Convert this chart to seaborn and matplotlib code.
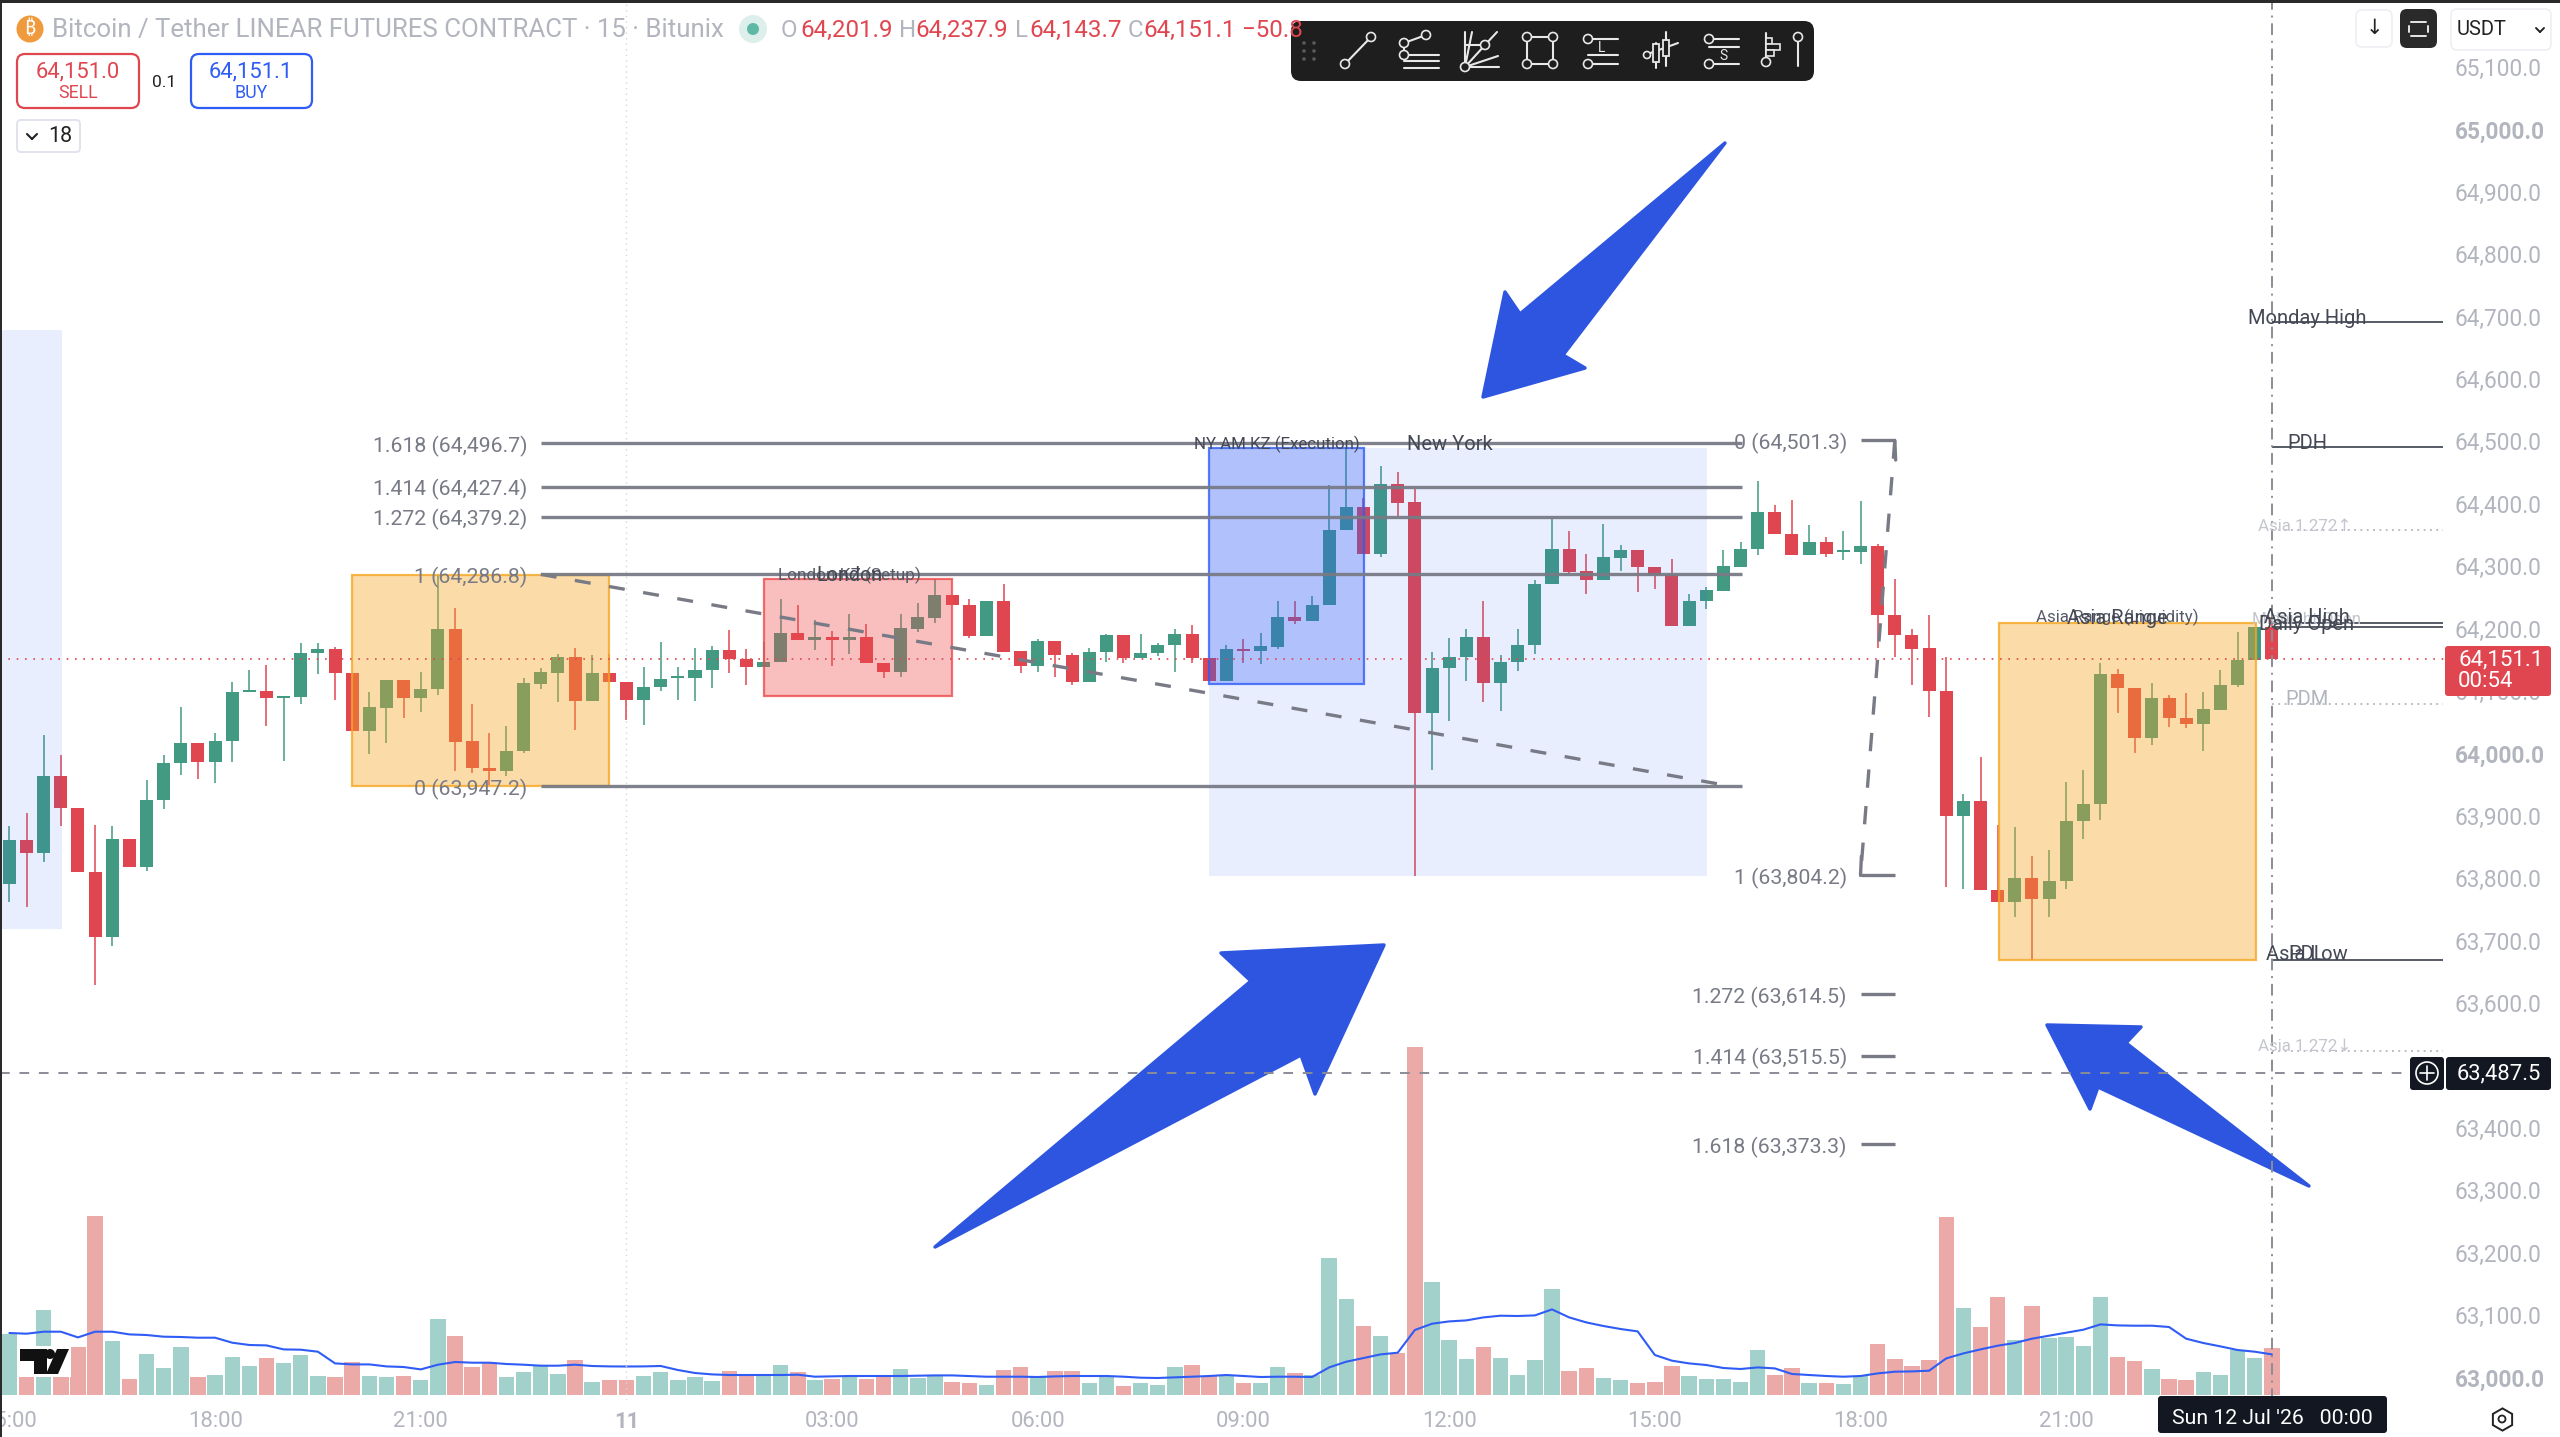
import numpy as np
import pandas as pd
import matplotlib
matplotlib.use('Agg')
import matplotlib.pyplot as plt
import seaborn as sns
from matplotlib.patches import Rectangle, Polygon, FancyBboxPatch, Circle

# 15 minute candles
opens = [63791, 63861, 63841, 63963, 63913, 63809, 63706, 63862, 63817, 63925, 63984, 64016, 63986, 64019, 64099, 64100, 64088, 64091, 64160, 64167,
         64129, 64035, 64073, 64117, 64088, 64103, 64199, 64019, 63977, 63972, 64003, 64111, 64129, 64154, 64084, 64129, 64115, 64086, 64106, 64121,
         64121, 64133, 64166, 64151, 64139, 64147, 64193, 64182, 64186, 64182, 64187, 64145, 64130, 64199, 64217, 64253, 64238, 64188, 64244, 64164,
         64140, 64180, 64157, 64114, 64162, 64189, 64152, 64160, 64174, 64191, 64153, 64116, 64167, 64164, 64171, 64218, 64212, 64237, 64358, 64394,
         64319, 64432, 64402, 64064, 64137, 64154, 64187, 64112, 64146, 64173, 64271, 64328, 64292, 64277, 64313, 64326, 64298, 64286, 64204, 64244,
         64260, 64299, 64327, 64387, 64351, 64318, 64338, 64323, 64323, 64332, 64221, 64190, 64168, 64100, 63899, 63924, 63781, 63761, 63800, 63767,
         63795, 63891, 63918, 64127, 64104, 64024, 64089, 64057, 64047, 64070, 64109, 64150, 64201.9]
closes = [63861, 63841, 63963, 63912, 63809, 63706, 63862, 63817, 63925, 63984, 64016, 63986, 64020, 64099, 64101, 64088, 64092, 64160, 64167, 64128,
          64035, 64074, 64117, 64088, 64103, 64199, 64018, 63977, 63972, 64003, 64112, 64130, 64154, 64084, 64129, 64115, 64086, 64106, 64119, 64123,
          64133, 64166, 64151, 64139, 64147, 64193, 64181, 64186, 64182, 64187, 64144, 64130, 64200, 64218, 64253, 64238, 64188, 64244, 64163, 64140,
          64180, 64157, 64114, 64163, 64189, 64152, 64160, 64174, 64191, 64152, 64116, 64167, 64164, 64172, 64218, 64212, 64237, 64358, 64394, 64319,
          64432, 64401, 64064, 64137, 64155, 64187, 64112, 64146, 64173, 64271, 64328, 64291, 64277, 64314, 64326, 64298, 64286, 64204, 64244, 64261,
          64300, 64327, 64387, 64351, 64318, 64338, 64320, 64325, 64332, 64221, 64189, 64167, 64100, 63899, 63924, 63781, 63761, 63800, 63767, 63796,
          63891, 63919, 64127, 64104, 64024, 64089, 64056, 64047, 64071, 64110, 64150, 64201.9, 64151.1]
highs = [63883, 63904, 64029, 63998, 63913, 63885, 63884, 63862, 63957, 63997, 64074, 64016, 64032, 64114, 64134, 64142, 64092, 64176, 64176, 64170,
         64129, 64099, 64117, 64117, 64130, 64286, 64233, 64079, 64032, 64044, 64120, 64137, 64159, 64168, 64157, 64159, 64115, 64139, 64178, 64139,
         64168, 64172, 64198, 64167, 64179, 64248, 64237, 64213, 64196, 64223, 64207, 64145, 64223, 64241, 64279, 64253, 64247, 64244, 64271, 64164,
         64183, 64180, 64161, 64168, 64191, 64189, 64191, 64177, 64199, 64205, 64153, 64173, 64183, 64193, 64244, 64244, 64252, 64430, 64489, 64409,
         64460, 64451, 64424, 64163, 64184, 64199, 64244, 64158, 64199, 64278, 64376, 64356, 64319, 64367, 64334, 64326, 64298, 64312, 64256, 64266,
         64326, 64339, 64437, 64398, 64406, 64366, 64347, 64357, 64404, 64335, 64280, 64199, 64222, 64154, 63935, 63994, 63885, 63882, 63836, 63845,
         63954, 63973, 64145, 64135, 64104, 64112, 64094, 64096, 64099, 64134, 64195, 64201.9, 64237.9]
lows = [63762, 63754, 63825, 63883, 63809, 63629, 63691, 63817, 63812, 63910, 63965, 63959, 63953, 63986, 64099, 64044, 63988, 64079, 64127, 64085,
        64035, 63999, 64017, 64057, 64066, 64094, 63971, 63969, 63949, 63963, 64000, 64103, 64083, 64037, 64084, 64115, 64054, 64046, 64100, 64085,
        64084, 64105, 64129, 64110, 64139, 64147, 64181, 64166, 64140, 64159, 64144, 64120, 64123, 64194, 64209, 64238, 64185, 64188, 64163, 64128,
        64130, 64123, 64110, 64114, 64147, 64145, 64152, 64156, 64131, 64144, 64116, 64116, 64145, 64143, 64167, 64207, 64212, 64237, 64358, 64319,
        64314, 64380, 63804, 63973, 64051, 64116, 64083, 64068, 64132, 64159, 64271, 64287, 64256, 64277, 64292, 64259, 64263, 64204, 64204, 64232,
        64260, 64299, 64317, 64351, 64318, 64318, 64314, 64309, 64303, 64169, 64154, 64110, 64058, 63785, 63783, 63781, 63761, 63738, 63669, 63738,
        63782, 63863, 63893, 64065, 64001, 64013, 64042, 64041, 64003, 64070, 64106, 64150, 64143.7]

# volume pane, arbitrary units
volumes = [60.7, 33, 84.7, 49, 48, 178.7, 54, 15.7, 41, 27, 47.7, 17.7, 19.7, 38, 29, 37, 31.7, 39.7, 19, 17.7,
           32.7, 19, 17.7, 19, 14.3, 75.7, 59, 27.7, 32.3, 17.7, 22.3, 28.3, 20.7, 35, 12.7, 14.3, 15, 19, 22.3, 14.3,
           17.7, 13.7, 23.7, 18.3, 19, 29.7, 23, 14.3, 16, 18, 15.3, 18.7, 25.7, 17, 19.7, 12.7, 12, 9.7, 24.7, 27.3,
           18, 24, 24, 11.3, 18, 9, 11.3, 10, 28, 29.7, 18.7, 19.3, 11.3, 12, 27.3, 21.7, 19.7, 136.3, 96, 68.7,
           58.3, 42, 347.3, 113, 55, 35.7, 47.7, 36.7, 19.3, 34.3, 105.3, 24, 26.3, 16.7, 14.3, 12, 12.7, 28.7, 19, 15.7,
           15.3, 13, 44.7, 20, 27, 12, 11.3, 10.3, 19, 50.3, 35.7, 28.7, 35, 177.7, 86.7, 67.7, 98, 54.7, 88.7, 56.7,
           57.3, 48.7, 98, 37.3, 33.3, 25.3, 15.7, 15, 23, 19.7, 44.7, 36.7, 46.3]
volume_ma = [61.7, 61, 63, 63, 57.3, 63, 63, 60.3, 59.7, 58, 57.7, 57, 57, 52, 49.7, 49.3, 45.3, 45, 43, 31.3,
             30.3, 30.3, 28.3, 27.7, 25.3, 30, 32.7, 32, 32, 30.7, 30, 29, 29, 30, 28.7, 28.3, 28.2, 28.3, 28.7, 24.7,
             21.7, 20.3, 19.7, 19.7, 19.7, 19.7, 20, 18, 18.3, 18.7, 18.7, 18.7, 18.7, 19, 19.3, 19.3, 18.7, 18, 18, 18,
             17.7, 18.3, 18.7, 18.7, 18.7, 18, 17, 16.7, 17.3, 18, 18.7, 19.7, 18.7, 17.7, 18, 18, 17.7, 27.3, 33, 36.7,
             40.3, 42, 64.7, 71, 73.3, 74.3, 77.3, 79, 78.7, 79.3, 85.3, 77.3, 72.3, 68.7, 65.7, 63.3, 39.7, 34, 31.3, 29.7,
             26.7, 25.7, 27.3, 26.3, 20.7, 19.7, 18.7, 18, 18.7, 21.3, 23, 23.3, 24, 36.3, 41.3, 45.3, 49, 51.7, 56, 59,
             62, 65, 70.3, 69.3, 69, 69, 67.7, 56, 51.7, 48.3, 44.7, 43, 40.3]

# price axis and time axis
price_ticks = [65100, 65000, 64900, 64800, 64700, 64600, 64500, 64400, 64300, 64200, 64100, 64000,
               63900, 63800, 63700, 63600, 63500, 63400, 63300, 63200, 63100, 63000]
bold_prices = [65000, 64000, 63000]
time_ticks = [0, 12, 24, 36, 48, 60, 72, 84, 96, 108, 120]
time_labels = ['15:00', '18:00', '21:00', '11', '03:00', '06:00', '09:00', '12:00', '15:00', '18:00', '21:00']

# fib levels
fib_a_levels = [64496.7, 64427.4, 64379.2, 64286.8, 63947.2]
fib_a_names = ['1.618', '1.414', '1.272', '1', '0']
fib_b_levels = [64501.3, 63804.2, 63614.5, 63515.5, 63373.3]
fib_b_names = ['0', '1', '1.272', '1.414', '1.618']

last_price = 64151.1
cross_price = 63487.5
cross_bar = 132

GREEN = '#429a82'
RED = '#e04650'
VOL_GREEN = '#a2d1cb'
VOL_RED = '#ebaaa8'
GREY = '#787b86'
AXIS_GREY = '#b2b5be'
DARK = '#131722'
ARROW = '#2d55e0'

sns.set_theme(style='white')
plt.rcParams['font.family'] = ['Roboto', 'DejaVu Sans']

df = pd.DataFrame({'bar': np.arange(len(opens)), 'open': opens, 'high': highs, 'low': lows,
                   'close': closes, 'volume': volumes, 'ma': volume_ma})
df['side'] = np.where(df['close'] >= df['open'], 'up', 'down')
colors = df['side'].map({'up': GREEN, 'down': RED})

fig = plt.figure(figsize=(25.6, 14.37), dpi=100, facecolor='white')
pane = [0, 37 / 1437, 2445 / 2560, 1397 / 1437]

# volume sits behind the price axes
vol_ax = fig.add_axes(pane, zorder=1)
ax = vol_ax.twinx()
ax.set_zorder(2)
ax.patch.set_visible(False)

sns.barplot(data=df, x='bar', y='volume', hue='side', palette={'up': VOL_GREEN, 'down': VOL_RED},
            native_scale=True, dodge=False, width=0.9, saturation=1, legend=False, linewidth=0, ax=vol_ax)
sns.lineplot(data=df, x='bar', y='ma', color='#2f5cf5', linewidth=1.5, ax=vol_ax)
vol_ax.set_ylim(-5.3, 1391.7)
vol_ax.set_xlabel('')
vol_ax.set_ylabel('')
vol_ax.set_yticks([])

# candles
ax.vlines(df['bar'], df['low'], df['high'], colors=colors, linewidth=1.1, zorder=3)
ax.bar(df['bar'], np.maximum((df['close'] - df['open']).abs(), 3), bottom=df[['open', 'close']].min(axis=1),
       width=0.76, color=colors, linewidth=0, zorder=3)

# session boxes
ax.add_patch(Rectangle((-1, 63719), 4.05, 959, facecolor='#2962ff', alpha=0.1, linewidth=0, zorder=4))
ax.add_patch(Rectangle((70, 63804), 29.05, 685, facecolor='#2962ff', alpha=0.1, linewidth=0, zorder=4))
for x0, x1, p0, p1, col, fa in [(20, 35, 63948, 64285, '#f5a623', 0.4), (44, 55, 64092, 64279, '#ee4a4a', 0.35),
                                (70, 79.05, 64111, 64489, '#2f5cf5', 0.3), (116.1, 131.1, 63669, 64209, '#f5a623', 0.4)]:
    ax.add_patch(Rectangle((x0, p0), x1 - x0, p1 - p0, facecolor=col, alpha=fa, linewidth=0, zorder=4))
    ax.add_patch(Rectangle((x0, p0), x1 - x0, p1 - p0, fill=False, edgecolor=col, alpha=0.8, linewidth=1.6, zorder=4))

# fib from the left
ax.hlines(fib_a_levels, 31, 101.1, colors=GREY, linewidth=2.4, alpha=0.95, zorder=5)
ax.plot([31, 100.3], [64286.8, 63948], color=GREY, linewidth=2.4, dashes=(4.8, 5.6), zorder=5)
for lev, name in zip(fib_a_levels, fib_a_names):
    ax.text(30.2, lev - 5, f'{name} ({lev:,.1f})', ha='right', va='center', fontsize=15.3, color=GREY, zorder=6)

# fib on the right
ax.hlines(fib_b_levels, 108, 110, colors=GREY, linewidth=2.4, zorder=5)
ax.plot([110, 108], [64501.3, 63804.2], color=GREY, linewidth=2.4, dashes=(5.5, 5.5), zorder=5)
ax.plot([110, 110.05], [64501.3, 64470], color=GREY, linewidth=2.4, zorder=5)
ax.plot([108.05, 108], [63835, 63804.2], color=GREY, linewidth=2.4, zorder=5)
for lev, name in zip(fib_b_levels, fib_b_names):
    ax.text(107.2, lev - 5, f'{name} ({lev:,.1f})', ha='right', va='center', fontsize=15.3, color=GREY, zorder=6)

# level lines on the right
ax.hlines([64691, 64491, 64209, 64201.9, 63669], 132, 142, colors='#4a4e5a', linewidth=1.3, zorder=5)
ax.hlines([64358, 64079, 63523], 132, 142, colors=AXIS_GREY, linewidth=1.3, linestyles=(0, (1, 2.5)), zorder=5)

ax.axhline(last_price, color=RED, linewidth=1.2, linestyle=(0, (1, 4)), zorder=5)
ax.axvline(36, color='#d5d7dd', linewidth=1, linestyle=(0, (1, 3)), zorder=0)

ax.set_xlim(-0.548, 142.1)
ax.set_ylim(62963.6, 65202.4)
vol_ax.set_xlim(-0.548, 142.1)

ax.set_yticks(price_ticks)
ax.set_yticklabels([f'{p:,.1f}' for p in price_ticks])
ax.tick_params(axis='y', length=0, pad=7, labelsize=16.3, labelcolor=AXIS_GREY)
for lab, p in zip(ax.get_yticklabels(), price_ticks):
    if p in bold_prices:
        lab.set_fontweight('bold')
vol_ax.set_xticks(time_ticks)
vol_ax.set_xticklabels(time_labels)
vol_ax.tick_params(axis='x', length=0, pad=8, labelsize=15.8, labelcolor=AXIS_GREY)
for lab in vol_ax.get_xticklabels():
    if lab.get_text() == '11':
        lab.set_fontweight('bold')
for a in (ax, vol_ax):
    for s in a.spines.values():
        s.set_visible(False)

# overlay in screen pixels for the app chrome
ui = fig.add_axes([0, 0, 1, 1], facecolor='none', zorder=3)
ui.set_xlim(0, 2560)
ui.set_ylim(1437, 0)
ui.axis('off')


def ui_text(x, y, s, size=15.3, color='#444444', ha='center', weight='normal', family=None):
    ui.text(x, y + 1.5, s, fontsize=size, color=color, ha=ha, va='center', fontweight=weight, zorder=8, family=family)


def ui_box(x0, y0, x1, y1, face, edge='none', lw=1.5, r=5, z=7):
    ui.add_patch(FancyBboxPatch((x0 + r, y0 + r), x1 - x0 - 2 * r, y1 - y0 - 2 * r, boxstyle=f'round,pad={r}',
                                facecolor=face, edgecolor=edge, linewidth=lw, zorder=z))


def dots(points, size=4.5):
    for x, y in points:
        ui.add_patch(Circle((x, y), size, facecolor='#1e1e1e', edgecolor='#e8e8e8', linewidth=1.2, zorder=10))


def lines(segments, lw=1.5, color='#e8e8e8'):
    for (x0, y0), (x1, y1) in segments:
        ui.plot([x0, x1], [y0, y1], color=color, linewidth=lw, zorder=9, solid_capstyle='round')


# arrows go under the crosshair
arrow_shapes = [
    [(1725, 143), (1563, 355), (1585, 368), (1483, 397), (1505, 292), (1520, 314)],
    [(935, 1247), (1251, 981), (1221, 953), (1384, 945), (1315, 1094), (1301, 1055)],
    [(2309, 1186), (2098, 1087), (2090, 1109), (2047, 1025), (2141, 1027), (2126, 1043)],
]
for pts in arrow_shapes:
    ax.add_patch(Polygon(pts, closed=True, facecolor=ARROW, edgecolor=ARROW, linewidth=2.5, joinstyle='round',
                         transform=ui.transData, zorder=6, clip_on=False))
ax.axhline(cross_price, color='#8a8d96', linewidth=1.4, linestyle=(0, (5, 5)), zorder=7)
ax.axvline(cross_bar, color='#8a8d96', linewidth=1.4, linestyle=(0, (6, 3, 1, 3)), zorder=7)

# session labels
ui_text(849, 574, 'London KZ (Setup)', 12.4, '#555a66')
ui_text(849, 574, 'London', 14.3, '#444854')
ui_text(1277, 443, 'NY AM KZ (Execution)', 12.2, '#444854')
ui_text(1450, 443, 'New York', 14.5, '#444854')
ui_text(2117, 616, 'Asia Range (Liquidity)', 12.2, '#555a66')
ui_text(2117, 617, 'Asia Range', 14.5, '#444854')
ui_text(2307, 618, 'Midnight Open', 12.2, '#c4c6cd')
ui_text(2307, 616, 'Asia High', 14.5, '#444854')
ui_text(2307, 623, 'Daily Open', 14.5, '#444854')
ui_text(2307, 953, 'Asia Low', 14.5, '#444854')
ui_text(2307, 953, 'PDL', 14.5, '#444854')
ui_text(2307, 317, 'Monday High', 14.5, '#444854')
ui_text(2307, 442, 'PDH', 14.5, '#444854')
ui_text(2307, 698, 'PDM', 14.5, AXIS_GREY)
ui_text(2305, 525, 'Asia 1.272↑', 12.2, '#c4c6cd')
ui_text(2305, 1045, 'Asia 1.272↓', 12.2, '#c4c6cd')

# header
ui.add_patch(Rectangle((0, 0), 2560, 3, facecolor='#2a2a2a', linewidth=0, zorder=9))
ui.add_patch(Rectangle((0, 0), 2, 1437, facecolor='#2a2a2a', linewidth=0, zorder=9))
ui.add_patch(Circle((30, 29), 13.5, facecolor='#ef9a3c', linewidth=0, zorder=8))
ui_text(30, 27.5, '₿', 14, 'white', family=['Noto Sans', 'Inter', 'Open Sans', 'Lato', 'Liberation Sans', 'DejaVu Sans'])
ui_text(52, 29, 'Bitcoin / Tether LINEAR FUTURES CONTRACT · 15 · Bitunix', 18.6, AXIS_GREY, ha='left')
ui.add_patch(Circle((753, 29), 14, facecolor='#dcefeb', linewidth=0, zorder=8))
ui.add_patch(Circle((753, 29), 6, facecolor='#5fb8a5', linewidth=0, zorder=8))
for x, s, col in [(781, 'O', AXIS_GREY), (800, '64,201.9', RED), (899, 'H', AXIS_GREY), (915, '64,237.9', RED),
                  (1015, 'L', AXIS_GREY), (1029, '64,143.7', RED), (1128, 'C', AXIS_GREY), (1143, '64,151.1', RED),
                  (1242, '−50.8', RED)]:
    ui_text(x, 29, s, 17.4, col, ha='left')

# sell and buy buttons
ui_box(17, 54, 139, 108, 'white', RED, 1.6, 8)
ui_text(78, 70, '64,151.0', 15.8, RED)
ui_text(78, 92, 'SELL', 12.8, RED)
ui_text(164, 81, '0.1', 12.5, '#222222')
ui_box(191, 54, 312, 108, '#ffffff', '#2f5cf5', 1.6, 8)
ui_text(251, 70, '64,151.1', 15.8, '#2f5cf5')
ui_text(251, 92, 'BUY', 12.8, '#2f5cf5')
ui_box(17, 120, 80, 152, 'white', '#e0e3eb', 1.4, 4)
lines([((27, 134), (32, 139)), ((32, 139), (37, 134))], 1.5, '#222222')
ui_text(60, 135, '18', 15.5, '#222222')

# drawing toolbar
ui_box(1291, 21, 1814, 81, '#1e1e1e', 'none', 0, 10, z=7)
for x in (1304, 1314):
    for y in (43, 51, 59):
        ui.add_patch(Circle((x, y), 1.8, facecolor='#5a5a5a', linewidth=0, zorder=9))
lines([((1345, 64), (1371, 37))])
dots([(1345, 64), (1371, 37)])
lines([((1404, 43), (1426, 35)), ((1404, 43), (1404, 55)), ((1404, 55), (1439, 55)), ((1404, 61), (1439, 61)), ((1404, 68), (1439, 68))])
dots([(1404, 43), (1426, 35), (1404, 55)])
lines([((1465, 67), (1465, 32)), ((1465, 67), (1472, 32)), ((1465, 67), (1485, 45)), ((1465, 67), (1498, 56)),
       ((1465, 67), (1499, 67)), ((1465, 45), (1485, 45)), ((1485, 45), (1497, 32))])
dots([(1465, 67), (1485, 45)])
lines([((1527, 37), (1553, 37)), ((1553, 37), (1553, 64)), ((1553, 64), (1527, 64)), ((1527, 64), (1527, 37))])
dots([(1527, 37), (1553, 37), (1553, 64), (1527, 64)])
lines([((1588, 39), (1618, 39)), ((1588, 55), (1618, 55)), ((1588, 64), (1618, 64))])
dots([(1588, 39), (1588, 64)])
ui_text(1602, 46, 'L', 10, '#e8e8e8')
lines([((1656, 43), (1656, 68)), ((1666, 32), (1666, 66)), ((1645, 55), (1678, 43))])
ui.add_patch(Rectangle((1653, 44), 6, 18, facecolor='#1e1e1e', edgecolor='#e8e8e8', linewidth=1.3, zorder=9))
ui.add_patch(Rectangle((1663, 40), 6, 16, facecolor='#1e1e1e', edgecolor='#e8e8e8', linewidth=1.3, zorder=9))
dots([(1647, 55)], 3.5)
lines([((1709, 39), (1739, 39)), ((1709, 47), (1739, 47)), ((1709, 64), (1739, 64))])
dots([(1709, 39), (1709, 64)])
ui_text(1723, 55, 'S', 10, '#e8e8e8')
lines([((1766, 33), (1766, 62))])
for yy, w in [(38, 6), (44, 14), (50, 8)]:
    ui.add_patch(Rectangle((1766, yy), w, 6, facecolor='#1e1e1e', edgecolor='#e8e8e8', linewidth=1.2, zorder=9))
dots([(1766, 62)])
lines([((1798, 37), (1798, 66))])
dots([(1798, 37)])

# top right buttons
ui_box(2356, 10, 2392, 47, 'white', '#eeeff3', 1.2, 6)
ui_text(2374, 27, '↓', 15, '#222222')
ui_box(2400, 9, 2437, 48, '#2a2a2a', 'none', 0, 7)
lines([((2411, 22), (2426, 22)), ((2409, 26), (2409, 32)), ((2428, 26), (2428, 32)), ((2411, 36), (2426, 36))], 1.4)
ui_box(2451, 9, 2551, 50, 'white', '#eeeff3', 1.2, 6)
ui_text(2457, 28, 'USDT', 14.5, '#222222', ha='left')
lines([((2536, 28), (2540, 32)), ((2540, 32), (2544, 28))], 1.4, '#222222')

# price tags
ui_box(2445, 646, 2551, 696, RED, 'none', 0, 3)
ui_text(2458, 658, '64,151.1', 16, 'white', ha='left')
ui_text(2458, 680, '00:54', 16, 'white', ha='left')
ui_box(2410, 1057, 2444, 1090, DARK, 'none', 0, 3)
ui.add_patch(Circle((2427, 1073), 11, facecolor='none', edgecolor='white', linewidth=1.2, zorder=9))
lines([((2420, 1073), (2434, 1073)), ((2427, 1066), (2427, 1080))], 1.2, 'white')
ui_box(2446, 1057, 2551, 1090, DARK, 'none', 0, 3)
ui_text(2499, 1072, f'{cross_price:,.1f}', 15.8, 'white')
ui_box(2158, 1396, 2387, 1433, DARK, 'none', 0, 3)
ui_text(2272, 1417, "Sun 12 Jul '26   00:00", 15.3, 'white')

# settings hexagon, bottom right
ui.plot([2502], [1419], marker='h', markersize=16, markerfacecolor='white', markeredgecolor='#222222', markeredgewidth=1.4, zorder=8)
ui.add_patch(Circle((2502, 1419), 3.5, facecolor='none', edgecolor='#222222', linewidth=1.3, zorder=9))

# chart logo
ui.add_patch(Rectangle((18, 1346), 53, 31, facecolor='white', linewidth=0, zorder=8))
ui.add_patch(Polygon([(20, 1349), (47, 1349), (47, 1374), (34, 1374), (34, 1361), (20, 1361)], facecolor='#111111', linewidth=0, zorder=9))
ui.add_patch(Circle((50, 1354), 5, facecolor='#111111', linewidth=0, zorder=9))
ui.add_patch(Polygon([(57, 1349), (69, 1349), (58, 1374), (46, 1374)], facecolor='#111111', linewidth=0, zorder=9))

fig.savefig('out.png', dpi=100, facecolor='white')
